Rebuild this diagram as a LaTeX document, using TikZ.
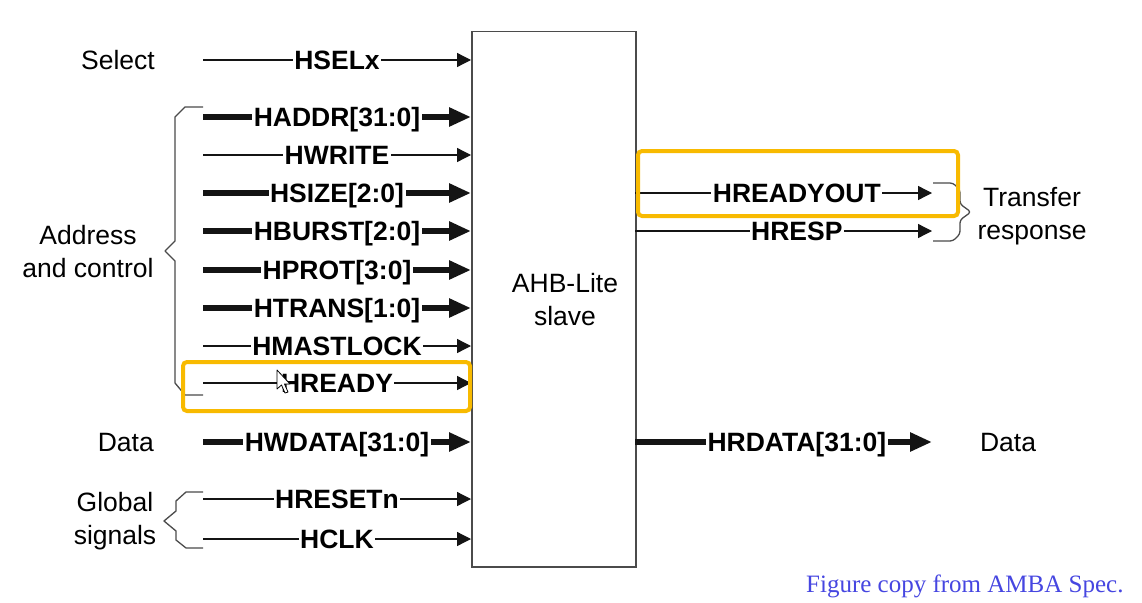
\documentclass[tikz,border=0pt]{standalone}
\usepackage{fontspec}
\setmainfont{Liberation Sans}
\newfontfamily\footfont{Liberation Serif}
\usetikzlibrary{arrows.meta}
\definecolor{hl}{RGB}{248,186,0}
\definecolor{ln}{RGB}{20,20,20}
\definecolor{br}{RGB}{75,75,75}
\definecolor{ft}{RGB}{70,70,225}
\begin{document}
\begin{tikzpicture}[x=1pt,y=-1pt,
  every node/.style={font=\fontsize{26.5}{33}\selectfont,text=black},
  thinsig/.style={draw=ln,line width=1.3pt,-{Triangle[length=14pt,width=14pt]}},
  thicksig/.style={draw=ln,line width=6.5pt,-{Triangle[length=22pt,width=18pt]}},
  lab/.style={fill=white,font=\bfseries\fontsize{26.5}{33}\selectfont,inner xsep=1.5pt,inner ysep=0pt,text height=19pt,text depth=0pt},
  txt/.style={anchor=base,inner sep=0pt},
  bracepath/.style={draw=br,line width=1.3pt,line join=round},
  hlbox/.style={draw=hl,line width=4pt,rounded corners=4pt},
  boxstyle/.style={draw=br,line width=1.5pt,inner sep=0pt,anchor=north west}]
\useasboundingbox[fill=white] (0,0) rectangle (1142,602);

% slave box
\node[boxstyle,minimum width=164pt,minimum height=535pt] (slave) at (471,31) {};
\node[txt] (s1) at (565,292.5) {AHB-Lite};
\node[txt] (s2) at (565,325.5) {slave};

% left inputs
\foreach \y/\t/\s [count=\i] in {60/HSELx/thinsig,117/HADDR[31:0]/thicksig,155/HWRITE/thinsig,193/HSIZE[2:0]/thicksig,231/HBURST[2:0]/thicksig,270/HPROT[3:0]/thicksig,308/HTRANS[1:0]/thicksig,346/HMASTLOCK/thinsig,383/HREADY/thinsig,442/HWDATA[31:0]/thicksig,499/HRESETn/thinsig,539/HCLK/thinsig}{
  \coordinate (L\i) at (203,\y);
  \draw[\s] (L\i) -- (L\i -| slave.west) node[lab,midway] (lab\i) {\t};
}

% right outputs
\coordinate (R1) at (635,193); \coordinate (E1) at (932,193);
\coordinate (R2) at (635,231); \coordinate (E2) at (932,231);
\coordinate (R3) at (635,442); \coordinate (E3) at (932,442);
\draw[thinsig] (R1) -- (E1) node[lab,pos=0.545] (rlab1) {HREADYOUT};
\draw[thinsig] (R2) -- (E2) node[lab,pos=0.545] (rlab2) {HRESP};
\draw[thicksig] (R3) -- (E3) node[lab,pos=0.545] (rlab3) {HRDATA[31:0]};

% left texts
\node[txt,anchor=base east] (tsel) at (155,69.5) {Select};
\node[txt] (tad1) at (88,244.5) {Address};
\node[txt] (tad2) at (88,277.5) {and control};
\node[txt,anchor=base east] (tdat) at (154,451.5) {Data};
\node[txt] (tgl1) at (115,511.5) {Global};
\node[txt] (tgl2) at (115,544.5) {signals};

% right texts
\node[txt] (ttr1) at (1032,206.5) {Transfer};
\node[txt] (ttr2) at (1032,239.5) {response};
\node[txt] (tdo) at (1008,451.5) {Data};

% braces
\draw[bracepath] (203,107) -- (185,107) -- (175,117) -- (175,241) -- (165,251) -- (175,261) -- (175,383) -- (185,395) -- (203,395);
\draw[bracepath] (203,492) -- (186,492) -- (176,501) -- (176,511) -- (164,521) -- (176,531) -- (176,540) -- (186,548) -- (203,548);
\draw[bracepath,rounded corners=3pt] (933,183) -- (953,183) -- (960,190) -- (960,204) -- (971,212) -- (960,220) -- (960,234) -- (953,241) -- (933,241);

% highlight boxes
\draw[hlbox] (183,362) rectangle (470,411);
\draw[hlbox] (638,151) rectangle (958,216);

% mouse cursor
\draw[fill=white,draw=black,line width=0.8pt,line join=round] (277,370) -- (277,389) -- (281.5,385) -- (285,393) -- (288,392) -- (284.5,384) -- (290,384) -- cycle;

% footer
\node[anchor=base west,inner sep=0pt,font=\footfont\fontsize{25}{30}\selectfont,text=ft] (foot) at (806,592) {Figure copy from AMBA Spec.};
\end{tikzpicture}
\end{document}
